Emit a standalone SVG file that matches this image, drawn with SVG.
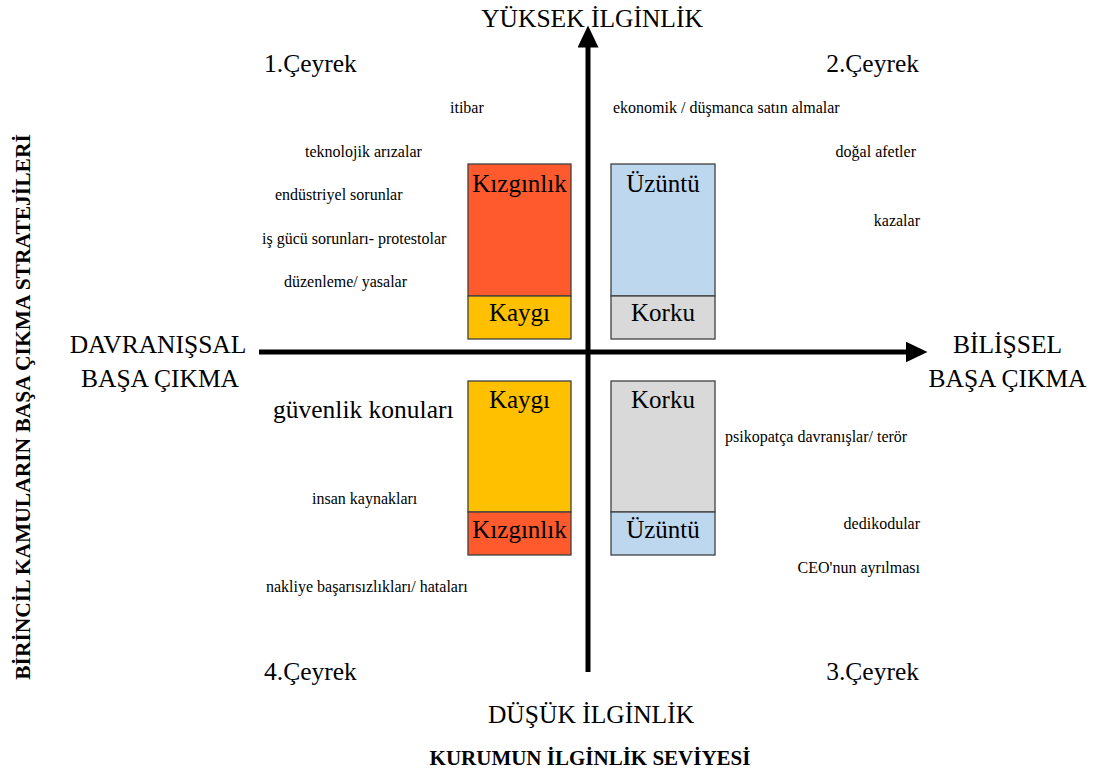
<svg xmlns="http://www.w3.org/2000/svg" width="1099" height="774" viewBox="0 0 1099 774">
<style>
text{font-family:"Liberation Serif","Times New Roman","DejaVu Serif",serif;fill:#000}
.big{font-size:25.5px}
.q{font-size:25.5px}
.s{font-size:16px}
.lbl{font-size:25px;text-anchor:middle}
.b{font-weight:bold;font-size:21px}
.vb{font-weight:bold;font-size:21.5px}
.box{stroke:#404040;stroke-width:1.3}
.org{fill:#FF5A2D}.yel{fill:#FFC000}.blu{fill:#BDD7EE}.gry{fill:#D9D9D9}
</style>
<defs>
<marker id="ah" markerWidth="4.4" markerHeight="4.2" refX="0.5" refY="2.1" orient="auto" markerUnits="strokeWidth">
<path d="M0,0 L4.4,2.1 L0,4.2 Z" fill="#000"/>
</marker>
</defs>
<rect width="1099" height="774" fill="#fff"/>
<g id="connectors">
<line x1="588" y1="672" x2="588" y2="45" stroke="#000" stroke-width="5" marker-end="url(#ah)"/>
<line x1="259" y1="352" x2="908" y2="352" stroke="#000" stroke-width="5" marker-end="url(#ah)"/>
</g>
<g id="axis-labels">
<text class="big" x="592" y="27" text-anchor="middle">YÜKSEK İLGİNLİK</text>
<text class="big" x="591" y="723" text-anchor="middle">DÜŞÜK İLGİNLİK</text>
<text class="b" x="590" y="765" text-anchor="middle">KURUMUN İLGİNLİK SEVİYESİ</text>
<text class="vb" transform="translate(30,407) rotate(-90)" text-anchor="middle">BİRİNCİL KAMULARIN BAŞA ÇIKMA STRATEJİLERİ</text>
<text class="big" x="158" y="353" text-anchor="middle">DAVRANIŞSAL</text>
<text class="big" x="160" y="387" text-anchor="middle">BAŞA ÇIKMA</text>
<text class="big" x="1007.5" y="353" text-anchor="middle">BİLİŞSEL</text>
<text class="big" x="1007.5" y="387" text-anchor="middle">BAŞA ÇIKMA</text>
<text class="q" x="264" y="72">1.Çeyrek</text>
<text class="q" x="919" y="72" text-anchor="end">2.Çeyrek</text>
<text class="q" x="264" y="680">4.Çeyrek</text>
<text class="q" x="919" y="680" text-anchor="end">3.Çeyrek</text>
</g>
<g id="q1-items">
<text class="s" x="450" y="113">itibar</text>
<text class="s" x="305" y="157">teknolojik arızalar</text>
<text class="s" x="275" y="200">endüstriyel sorunlar</text>
<text class="s" x="262" y="244">iş gücü sorunları- protestolar</text>
<text class="s" x="284" y="287">düzenleme/ yasalar</text>
</g>
<g id="q2-items">
<text class="s" x="613" y="113">ekonomik / düşmanca satın almalar</text>
<text class="s" x="916" y="157" text-anchor="end">doğal afetler</text>
<text class="s" x="920" y="226" text-anchor="end">kazalar</text>
</g>
<g id="q4-items">
<text class="q" x="273" y="418">güvenlik konuları</text>
<text class="s" x="312" y="504">insan kaynakları</text>
<text class="s" x="266" y="592">nakliye başarısızlıkları/ hataları</text>
</g>
<g id="q3-items">
<text class="s" x="725" y="442">psikopatça davranışlar/ terör</text>
<text class="s" x="920" y="529" text-anchor="end">dedikodular</text>
<text class="s" x="920" y="573" text-anchor="end">CEO'nun ayrılması</text>
</g>
<g id="box-q1">
<rect class="box org" x="468" y="164" width="103" height="132"/>
<rect class="box yel" x="468" y="296" width="103" height="43"/>
<text class="lbl" x="519.5" y="192">Kızgınlık</text>
<text class="lbl" x="519.5" y="321">Kaygı</text>
</g>
<g id="box-q2">
<rect class="box blu" x="611" y="164" width="104" height="132"/>
<rect class="box gry" x="611" y="296" width="104" height="43"/>
<text class="lbl" x="663" y="192">Üzüntü</text>
<text class="lbl" x="663" y="321">Korku</text>
</g>
<g id="box-q4">
<rect class="box yel" x="468" y="381" width="103" height="131"/>
<rect class="box org" x="468" y="512" width="103" height="43"/>
<text class="lbl" x="519.5" y="408">Kaygı</text>
<text class="lbl" x="519.5" y="538">Kızgınlık</text>
</g>
<g id="box-q3">
<rect class="box gry" x="611" y="381" width="104" height="131"/>
<rect class="box blu" x="611" y="512" width="104" height="43"/>
<text class="lbl" x="663" y="408">Korku</text>
<text class="lbl" x="663" y="538">Üzüntü</text>
</g>
</svg>
